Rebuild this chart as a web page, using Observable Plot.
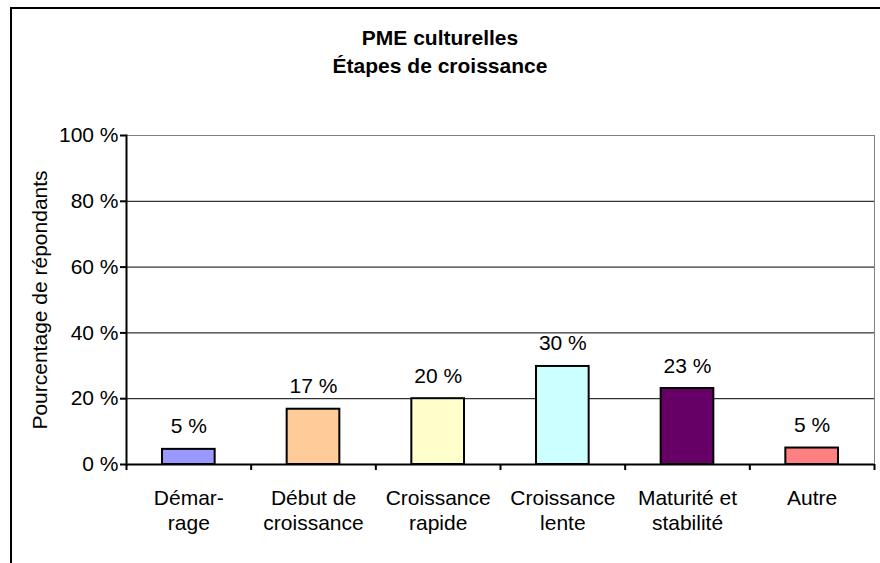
<!DOCTYPE html>
<html>
<head>
<meta charset="utf-8">
<script src="https://cdn.jsdelivr.net/npm/d3@7"></script>
<script src="https://cdn.jsdelivr.net/npm/@observablehq/plot@0.6"></script>
<style>
  html, body { margin: 0; padding: 0; background: #fff; overflow: hidden; }
  body { width: 880px; height: 563px; position: relative; font-family: "Liberation Sans", Arial, sans-serif; }
  #title { position: absolute; left: 0; top: 24px; width: 880px; text-align: center;
           font-weight: bold; font-size: 21px; line-height: 28px; color: #000; }
  #chart { position: absolute; left: 0; top: 90px; }
  #border { position: absolute; left: 10px; top: 7px; width: 920px; height: 620px;
            border-left: 2px solid #000; border-top: 2px solid #000; pointer-events: none; }
</style>
</head>
<body>
<div id="title">PME culturelles<br>Étapes de croissance</div>
<div id="chart"></div>
<div id="border"></div>
<script>
const categories = ["Démarrage", "Début de croissance", "Croissance rapide", "Croissance lente", "Maturité et stabilité", "Autre"];
const tickLabels = ["Démar-\nrage", "Début de\ncroissance", "Croissance\nrapide", "Croissance\nlente", "Maturité et\nstabilité", "Autre"];
const values = [4.6, 16.8, 20.0, 29.8, 23.1, 5.0];
const colors = ["#9999FF", "#FFCC99", "#FFFFCC", "#CCFFFF", "#660066", "#FF8080"];
const yTicks = [0, 20, 40, 60, 80, 100];
const yGrid = [20, 40, 60, 80];

const data = categories.map((c, i) => ({category: c, label: tickLabels[i], value: values[i], color: colors[i], i}));
const n = categories.length;
const boundaries = d3.range(n + 1);

const chart = Plot.plot({
  width: 880,
  height: 473,
  marginLeft: 126,
  marginRight: 6,
  marginTop: 45,
  marginBottom: 99,
  style: {fontFamily: "Liberation Sans, Arial, sans-serif", fontSize: "21px", color: "#000", background: "transparent"},
  x: {type: "linear", domain: [0, n]},
  y: {domain: [0, 100]},
  marks: [
    Plot.frame({stroke: "#808080", strokeWidth: 1}),
    Plot.gridY(yGrid, {stroke: "#000", strokeOpacity: 1, strokeWidth: 1}),
    Plot.rectY(data, {x1: d => d.i, x2: d => d.i + 1, y1: 0, y2: "value", fill: "color",
      stroke: "#000", strokeWidth: 2, insetLeft: 36, insetRight: 36}),
    Plot.text(data, {x: d => d.i + 0.5, y: "value", text: d => `${Math.round(d.value)} %`,
      lineAnchor: "bottom", dy: -16, fontSize: 21, fill: "#000"}),
    Plot.text(data, {x: d => d.i + 0.5, frameAnchor: "bottom", text: "label", lineAnchor: "top",
      dy: 23, lineHeight: 1.19, fontSize: 21, fill: "#000"}),
    Plot.axisY({ticks: yTicks, tickFormat: d => `${d} %`, tickSize: 6, tickPadding: 2,
      stroke: "#000", strokeWidth: 2, fontSize: 21,
      label: "Pourcentage de répondants", labelAnchor: "center", labelOffset: 94, labelArrow: "none"}),
    Plot.axisX({ticks: boundaries, tickFormat: () => "", tickSize: 6, strokeWidth: 2, label: null}),
    Plot.ruleY([0], {stroke: "#000", strokeWidth: 2}),
    Plot.frame({anchor: "left", stroke: "#000", strokeWidth: 2})
  ]
});
document.getElementById("chart").appendChild(chart);
</script>
</body>
</html>
